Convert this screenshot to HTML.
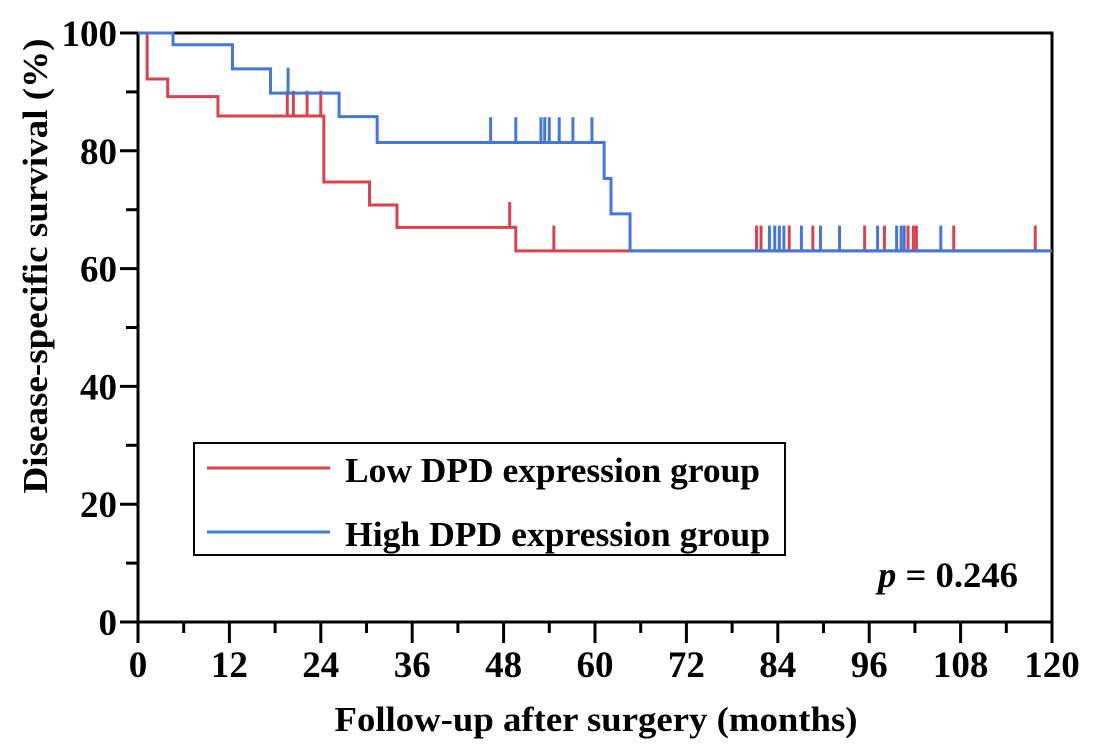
<!DOCTYPE html>
<html><head><meta charset="utf-8"><style>
html,body{margin:0;padding:0;background:#fff;}
svg{display:block;font-family:"Liberation Serif",serif;font-weight:bold;}
</style></head><body>
<svg id="chart" width="1097" height="756" viewBox="0 0 1097 756" xmlns="http://www.w3.org/2000/svg">
<g id="axes"></g>
<g id="series"></g>
<g>
<rect x="194" y="443" width="591" height="112" fill="#fff" stroke="#000" stroke-width="2"/>
<line x1="207" y1="468" x2="330" y2="468" stroke="#d8434f" stroke-width="3"/>
<text x="345" y="482" font-size="35" textLength="415" lengthAdjust="spacingAndGlyphs">Low DPD expression group</text>
<line x1="207" y1="532" x2="330" y2="532" stroke="#3f7fc8" stroke-width="3"/>
<text x="345" y="546" font-size="35" textLength="425" lengthAdjust="spacingAndGlyphs">High DPD expression group</text>
</g>
<text x="878" y="587" font-size="36" textLength="140" lengthAdjust="spacingAndGlyphs"><tspan font-style="italic">p</tspan> = 0.246</text>
<text x="596" y="731" font-size="35" text-anchor="middle" textLength="523" lengthAdjust="spacingAndGlyphs">Follow-up after surgery (months)</text>
<text transform="translate(47,266) rotate(-90)" font-size="35" text-anchor="middle" textLength="455" lengthAdjust="spacingAndGlyphs">Disease-specific survival (%)</text>
</svg>
<script>
const xTicks=[0,12,24,36,48,60,72,84,96,108,120];
const yTicks=[0,20,40,60,80,100];
const lowTimes=[0,1.2,3.9,10.5,24.4,30.4,34,49.6,120];
const lowSurv=[100,92.2,89.2,85.9,74.7,70.8,67,63,63];
const lowCensorT=[19.6,20.4,22.2,24,48.8,54.6,81.2,81.8,85.5,88.6,95.4,98.0,101.1,101.8,102.2,107.1,117.8];
const highTimes=[0,4.6,12.4,17.4,26.4,31.4,61.2,62.1,64.6,120];
const highSurv=[100,98,93.9,89.8,85.8,81.4,75.3,69.3,63,63];
const highCensorT=[19.7,46.3,49.6,52.9,53.4,54,55.3,57.1,59.6,82.9,83.6,84.2,84.8,87.1,89.6,92.1,97.1,99.6,100.2,100.6,105.4];

const X0=138,X1=1052,Y0=622,Y1=33;
const sx=v=>X0+(v/120)*(X1-X0);
const sy=v=>Y0-(v/100)*(Y0-Y1);
const NS="http://www.w3.org/2000/svg";
function mk(tag,attrs,parent){const e=document.createElementNS(NS,tag);for(const k in attrs)e.setAttribute(k,attrs[k]);parent.appendChild(e);return e;}
const axes=document.getElementById('axes');
const series=document.getElementById('series');

let f=mk('path',{d:`M${X0},${Y1}H${X1}V${Y0}H${X0}Z`,fill:'none',stroke:'#000','stroke-width':3},axes);



xTicks.forEach((t,i)=>{
  const x=sx(t);
  const l=mk('line',{x1:x,y1:Y0,x2:x,y2:643,stroke:'#000','stroke-width':3},axes);
  
  
  if(i<xTicks.length-1){
    const xm=sx(t+6);
    const m=mk('line',{x1:xm,y1:Y0,x2:xm,y2:633,stroke:'#000','stroke-width':3},axes);
    
    
  }
  const tx=mk('text',{x:x,y:677,'font-size':37,'text-anchor':'middle'},axes);
  tx.textContent=t;
  
  
});
yTicks.forEach((t,i)=>{
  const y=sy(t);
  const l=mk('line',{x1:120,y1:y,x2:X0,y2:y,stroke:'#000','stroke-width':3},axes);
  
  
  if(i<yTicks.length-1){
    const ym=sy(t+10);
    const m=mk('line',{x1:126,y1:ym,x2:X0,y2:ym,stroke:'#000','stroke-width':3},axes);
    
    
  }
  const tx=mk('text',{x:117,y:y+13,'font-size':37,'text-anchor':'end'},axes);
  tx.textContent=t;
  
  
});

function survAt(times,surv,t){let s=surv[0];for(let i=0;i<times.length;i++){if(times[i]<=t)s=surv[i];}return s;}
function drawSeries(times,surv,cens,color,name){
  let d=`M${sx(times[0])},${sy(surv[0])}`;
  for(let i=1;i<times.length;i++){d+=`H${sx(times[i])}V${sy(surv[i])}`;}
  const p=mk('path',{d:d,fill:'none',stroke:color,'stroke-width':3},series);
  
  
  cens.forEach(t=>{
    const s=survAt(times,surv,t);
    const c=mk('line',{x1:sx(t),y1:sy(s),x2:sx(t),y2:sy(s+4.3),stroke:color,'stroke-width':3},series);
    
    
  });
}
drawSeries(lowTimes,lowSurv,lowCensorT,'#d8434f','low-dpd');
drawSeries(highTimes,highSurv,highCensorT,'#4477d6','high-dpd');
</script>
</body></html>
